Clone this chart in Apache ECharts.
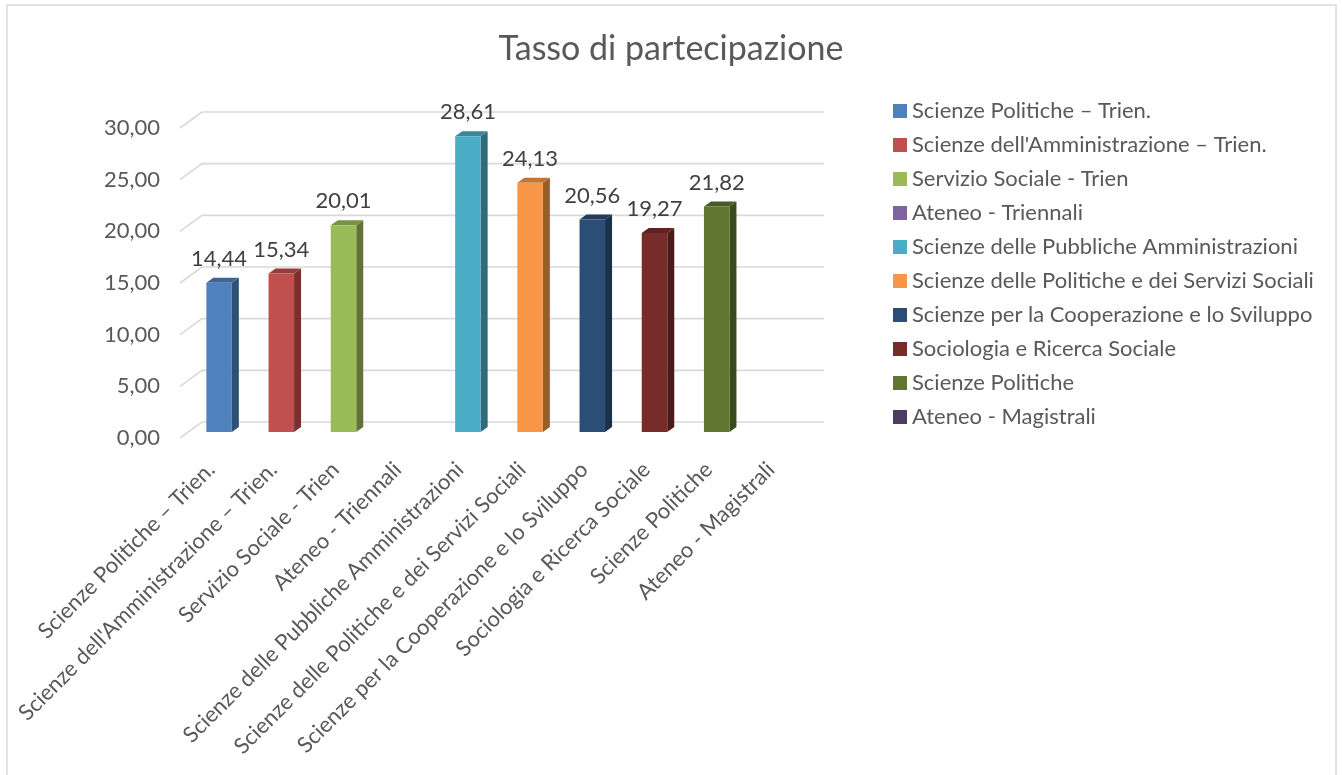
<!DOCTYPE html>
<html><head><meta charset="utf-8">
<script src="https://cdn.jsdelivr.net/npm/echarts@6/dist/echarts.min.js"></script>
<style>html,body{margin:0;padding:0;background:#fff}#c{width:1342px;height:775px}</style>
</head><body><div id="c"></div>
<script>
const categories = [
  'Scienze Politiche – Trien.',
  "Scienze dell'Amministrazione – Trien.",
  'Servizio Sociale - Trien',
  'Ateneo - Triennali',
  'Scienze delle Pubbliche Amministrazioni',
  'Scienze delle Politiche e dei Servizi Sociali',
  'Scienze per la Cooperazione e lo Sviluppo',
  'Sociologia e Ricerca Sociale',
  'Scienze Politiche',
  'Ateneo - Magistrali'
];
const values = [14.44, 15.34, 20.01, null, 28.61, 24.13, 20.56, 19.27, 21.82, null];
const yTicks = [0, 5, 10, 15, 20, 25, 30];
const colors = ['#4F81BD','#C0504D','#9BBB59','#8064A2','#4BACC6','#F79646','#2C4D75','#772C2A','#5F7530','#4D3B62'];

const FONT = 'Lato';
const TXT = '#595959';
function shade(hex, f){
  const n = parseInt(hex.slice(1),16);
  const r = Math.round(((n>>16)&255)*f), g = Math.round(((n>>8)&255)*f), b = Math.round((n&255)*f);
  return 'rgb('+r+','+g+','+b+')';
}
function fmt(v){ return v.toFixed(2).replace('.', ','); }

// 3D depth offsets (pixels)
const WALL_DX = 22, WALL_DY = -16;
const BAR_DX = 8, BAR_DY = -6;
const SIDE_DX = 7, SIDE_DY = -5;

function renderGrid(params, api){
  const v = api.value(0);
  const cs = params.coordSys;
  const p = api.coord([0, v]);
  const y = p[1];
  const x0 = cs.x, x1 = cs.x + cs.width;
  return {
    type: 'polyline',
    shape: { points: [[x0, y], [x0 + WALL_DX, y + WALL_DY], [x1 + WALL_DX, y + WALL_DY]] },
    style: { stroke: '#d9d9d9', lineWidth: 1.6, fill: null },
    silent: true
  };
}

function makeBarRenderer(color){
  return function(params, api){
    const cat = api.value(0), v = api.value(1);
    if (v == null || isNaN(v)) return null;
    const top = api.coord([cat, v]);
    const base = api.coord([cat, 0]);
    const band = api.size([1, 0])[0];
    const w = band * 0.41;
    const cx = top[0] + BAR_DX;
    const ty = top[1] + BAR_DY, by = base[1] + BAR_DY;
    const l = cx - w / 2, r = cx + w / 2;
    return {
      type: 'group',
      children: [
        { type: 'polygon', shape: { points: [[r, ty], [r + SIDE_DX, ty + SIDE_DY], [r + SIDE_DX, by + SIDE_DY], [r, by]] },
          style: { fill: shade(color, 0.62) } },
        { type: 'polygon', shape: { points: [[l, ty], [l + SIDE_DX, ty + SIDE_DY], [r + SIDE_DX, ty + SIDE_DY], [r, ty]] },
          style: { fill: shade(color, 0.78) } },
        { type: 'rect', shape: { x: l, y: ty, width: w, height: by - ty },
          style: { fill: color } },
        { type: 'text', x: cx, y: ty - 13,
          style: { text: fmt(v), fill: '#404040', font: '22px ' + FONT, align: 'center', verticalAlign: 'bottom' } }
      ]
    };
  };
}

const series = [{
  type: 'custom',
  name: '__grid',
  renderItem: renderGrid,
  data: yTicks.map(v => [v]),
  encode: { y: 0 },
  z: 1,
  silent: true,
  tooltip: { show: false }
}];
categories.forEach((name, i) => {
  series.push({
    type: 'custom',
    name: name,
    itemStyle: { color: colors[i] },
    renderItem: makeBarRenderer(colors[i]),
    data: [[i, values[i]]],
    encode: { x: 0, y: 1 },
    z: 5
  });
});

const chart = echarts.init(document.getElementById('c'));
chart.setOption({
  animation: false,
  backgroundColor: '#fff',
  title: {
    text: 'Tasso di partecipazione',
    left: 'center', top: 32,
    padding: 0,
    textStyle: { color: TXT, fontFamily: FONT, fontSize: 34, fontWeight: 'normal' }
  },
  legend: {
    data: categories,
    orient: 'vertical',
    left: 893, top: 100,
    padding: 0,
    icon: 'rect',
    itemWidth: 14, itemHeight: 14,
    itemGap: 12,
    itemTextGap: 6,
    textStyle: { color: TXT, fontFamily: FONT, fontSize: 22, lineHeight: 22 }
  },
  grid: { left: 180, right: 540, top: 128, bottom: 337, containLabel: false },
  xAxis: {
    type: 'category',
    data: categories,
    axisLine: { show: false },
    axisTick: { show: false },
    axisLabel: { rotate: 45, interval: 0, margin: 28, color: TXT, fontFamily: FONT, fontSize: 22 }
  },
  yAxis: {
    type: 'value',
    min: 0, max: 30, interval: 5,
    axisLine: { show: false },
    axisTick: { show: false },
    splitLine: { show: false },
    axisLabel: { formatter: fmt, margin: 20, color: TXT, fontFamily: FONT, fontSize: 22 }
  },
  graphic: [{
    type: 'rect',
    shape: { x: 7, y: 5, width: 1329, height: 800 },
    style: { fill: null, stroke: '#d9d9d9', lineWidth: 1.5 },
    silent: true, z: 100
  }],
  series: series
});
</script>
</body></html>
